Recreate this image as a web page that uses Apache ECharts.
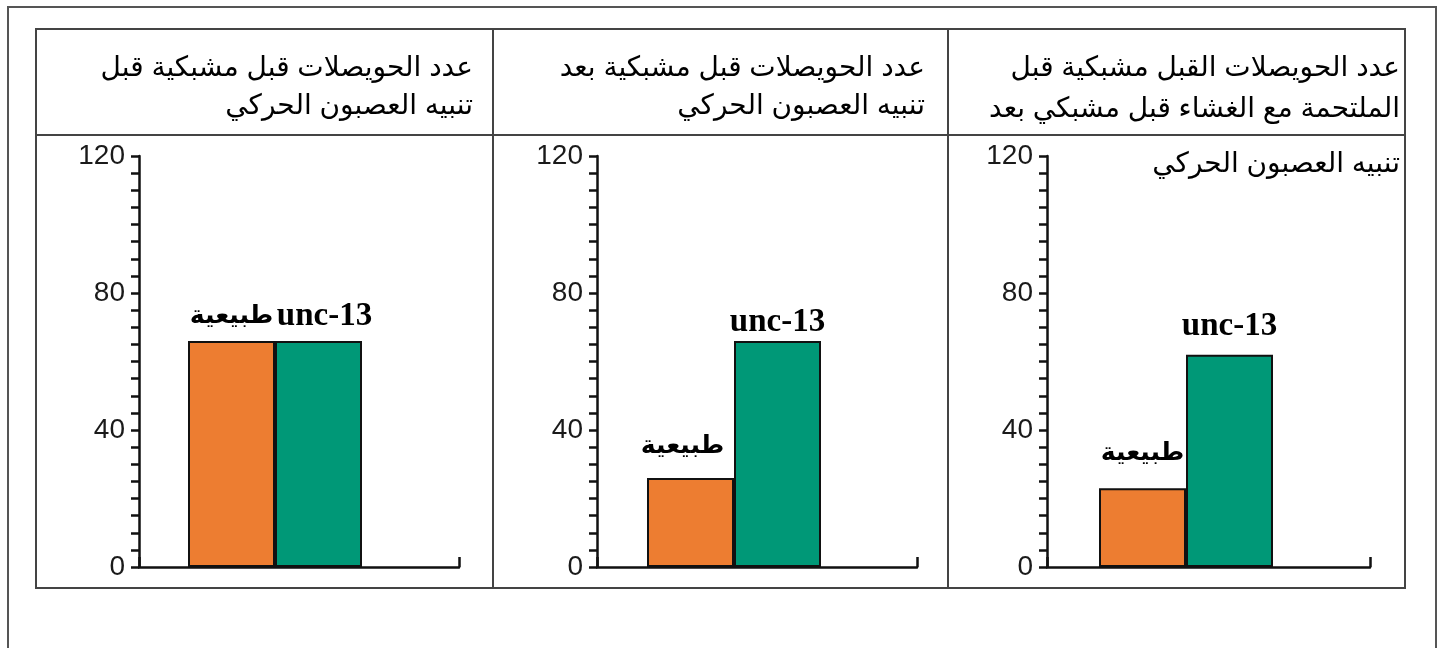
<!DOCTYPE html>
<html>
<head>
<meta charset="utf-8">
<script src="https://cdn.jsdelivr.net/npm/echarts@6/dist/echarts.min.js"></script>
<style>
  html, body { margin: 0; padding: 0; background: #fff; }
  #chart { width: 1440px; height: 648px; }
</style>
</head>
<body>
<div id="chart"></div>
<script>
// data
const categories = ["طبيعية", "unc-13"];
const normalValues = [66, 26, 23];
const unc13Values = [66, 66, 62];
const yMin = 0;
const yMax = 120;
const yInterval = 40;
const panelTitles = [
  ["عدد الحويصلات قبل مشبكية قبل", "تنبيه العصبون الحركي"],
  ["عدد الحويصلات قبل مشبكية بعد", "تنبيه العصبون الحركي"],
  ["عدد الحويصلات القبل مشبكية قبل", "الملتحمة مع الغشاء قبل مشبكي بعد", "تنبيه العصبون الحركي"],
];

// layout for each panel (pixels)
const panels = [
  { axisX: 139, axisEnd: 459, barLeft: 188, titleRight: 473, titleY: [68, 106],
    labelDist: [12, 8], labelOff: [0, 6] },
  { axisX: 597, axisEnd: 917, barLeft: 647, titleRight: 925, titleY: [68, 106],
    labelDist: [19, 2], labelOff: [-8, 0] },
  { axisX: 1047, axisEnd: 1370, barLeft: 1099, titleRight: 1400, titleY: [68, 109, 164],
    labelDist: [22, 12], labelOff: [0, 0] },
];
const plotTop = 156;
const plotHeight = 411;
const barW = 87;
const labelSizes = [25, 33];

const chart = echarts.init(document.getElementById("chart"));

const grids = [], xAxes = [], yAxes = [], series = [], graphics = [];
const labelFont = '"Liberation Serif", "DejaVu Sans", serif';
const textFont = '"Liberation Sans", "DejaVu Sans", Arial, sans-serif';

panels.forEach((p, i) => {
  // frame grid: visible axes
  grids.push({ left: p.axisX, top: plotTop, width: p.axisEnd - p.axisX, height: plotHeight });
  // bar grid: hidden axes, same vertical scale
  grids.push({ left: p.barLeft, top: plotTop, width: barW * 2, height: plotHeight });

  xAxes.push({
    gridIndex: i * 2, type: "value", min: 0, max: 1, interval: 1,
    axisLine: { show: true, lineStyle: { color: "#111", width: 2.5 } },
    axisTick: { show: true, inside: true, length: 10, lineStyle: { color: "#111", width: 2.5 } },
    axisLabel: { show: false }, splitLine: { show: false },
  });
  xAxes.push({ gridIndex: i * 2 + 1, type: "category", data: [""], show: false });

  yAxes.push({
    gridIndex: i * 2, type: "value", min: yMin, max: yMax, interval: yInterval,
    axisLine: { show: true, lineStyle: { color: "#111", width: 2.5 } },
    axisTick: { show: true, length: 8, lineStyle: { color: "#111", width: 2.5 } },
    minorTick: { show: true, splitNumber: 8, length: 8, lineStyle: { color: "#111", width: 2.5 } },
    axisLabel: { color: "#1a1a1a", fontSize: 28, fontFamily: textFont, margin: 14 },
    splitLine: { show: false },
  });
  yAxes.push({ gridIndex: i * 2 + 1, type: "value", min: yMin, max: yMax, show: false });

  const vals = [normalValues[i], unc13Values[i]];
  const colors = ["#ED7D31", "#009877"];
  categories.forEach((name, k) => {
    series.push({
      type: "bar", name: name,
      xAxisIndex: i * 2 + 1, yAxisIndex: i * 2 + 1,
      barGap: "0%", barCategoryGap: "0%",
      data: [vals[k]],
      itemStyle: { color: colors[k], borderColor: "#111", borderWidth: 2 },
      label: {
        show: true, position: "top", formatter: "{a}",
        distance: p.labelDist[k], offset: [p.labelOff[k], 0],
        color: "#000", fontSize: labelSizes[k], fontWeight: "bold", fontFamily: labelFont,
      },
      silent: true, animation: false,
    });
  });

  panelTitles[i].forEach((line, j) => {
    graphics.push({
      type: "text", x: p.titleRight, y: p.titleY[j],
      style: { text: line, fill: "#000", font: "28px " + textFont, align: "right", verticalAlign: "middle" },
    });
  });
});

// table borders
const lineStyle = { stroke: "#444", lineWidth: 2 };
graphics.push(
  { type: "rect", shape: { x: 8, y: 7, width: 1428, height: 660 }, style: { fill: null, stroke: "#555", lineWidth: 2 }, z: -1 },
  { type: "rect", shape: { x: 36, y: 29, width: 1369, height: 559 }, style: { fill: null, stroke: "#444", lineWidth: 2 }, z: -1 },
  { type: "line", shape: { x1: 36, y1: 135, x2: 1405, y2: 135 }, style: lineStyle, z: -1 },
  { type: "line", shape: { x1: 493, y1: 29, x2: 493, y2: 588 }, style: lineStyle, z: -1 },
  { type: "line", shape: { x1: 948, y1: 29, x2: 948, y2: 588 }, style: lineStyle, z: -1 }
);

chart.setOption({
  animation: false,
  grid: grids,
  xAxis: xAxes,
  yAxis: yAxes,
  series: series,
  graphic: graphics,
});
</script>
</body>
</html>
